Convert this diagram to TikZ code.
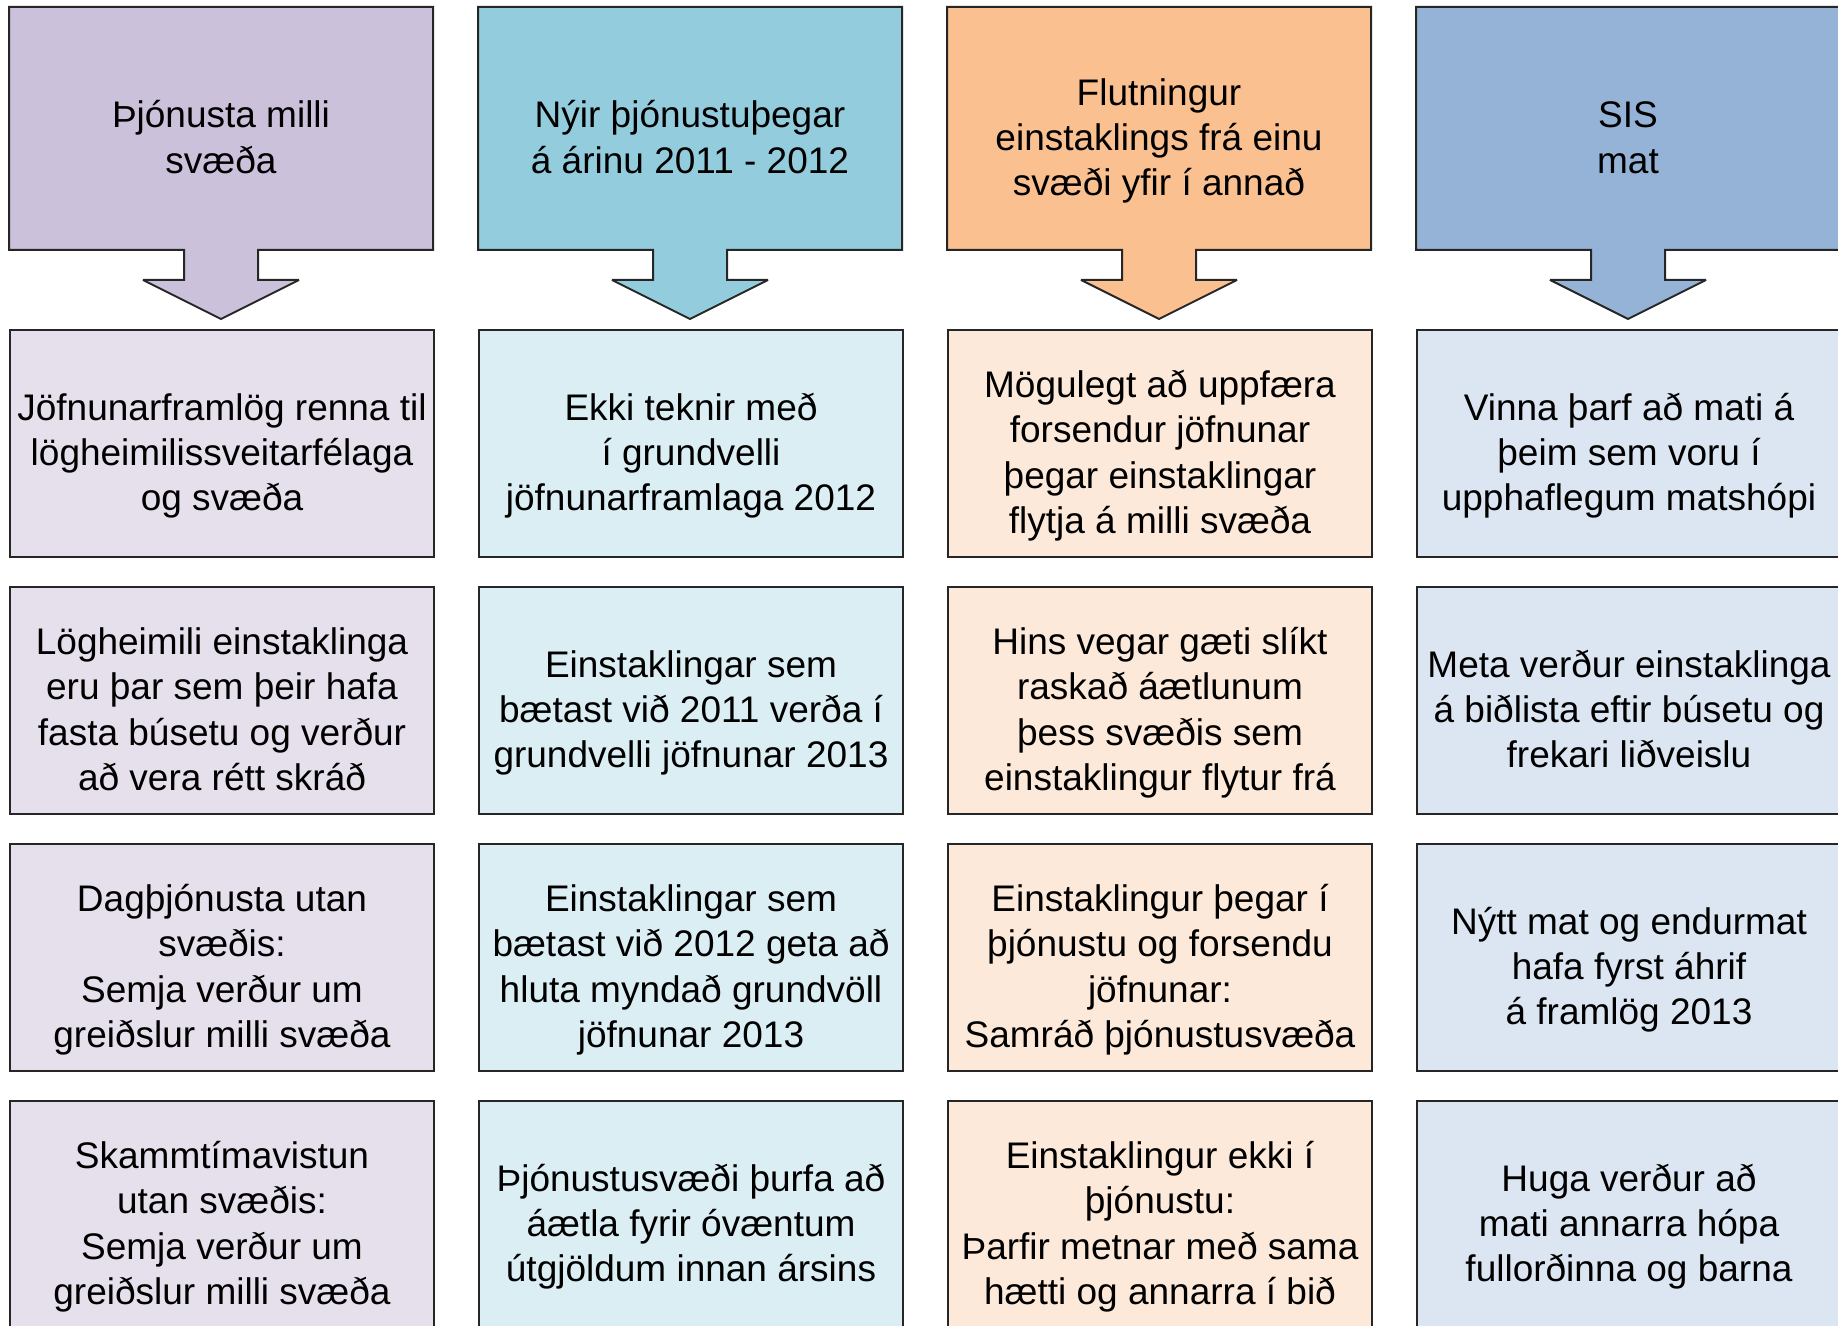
\documentclass[tikz,border=0pt]{standalone}
\usepackage{fontspec}
\setmainfont{Liberation Sans}
\definecolor{hdA}{HTML}{CCC1DA}
\definecolor{bxA}{HTML}{E5E0EC}
\definecolor{hdB}{HTML}{93CDDD}
\definecolor{bxB}{HTML}{DBEEF4}
\definecolor{hdC}{HTML}{FAC090}
\definecolor{bxC}{HTML}{FDE9D9}
\definecolor{hdD}{HTML}{95B3D7}
\definecolor{bxD}{HTML}{DCE6F2}
\definecolor{edge}{HTML}{262626}
\newcommand\mycell[5]{%
  \node[cellbox, fill=#4] (#1) at (#2,#3) {};
  \node[celltext] (#1t) at ([yshift=-6.5pt]#1.center) {\strut #5\strut};
}
\begin{document}
\begin{tikzpicture}[x=0.5pt,y=-0.5pt,
  hdrshape/.style={draw=edge, line width=1pt, line join=miter, miter limit=3},
  cellbox/.style={draw=edge, line width=1pt, rectangle, anchor=north west,
    minimum width=212pt, minimum height=113.5pt, inner sep=0pt},
  celltext/.style={align=center, inner sep=0pt,
    font=\fontsize{18.5}{22.6}\selectfont}]
\useasboundingbox (0,0) rectangle (1838,1326);
\clip (0,0) rectangle (1838,1326);

% header shapes with down arrows
\foreach \L/\col in {9/hdA,478/hdB,947/hdC,1416/hdD}{
  \draw[hdrshape, fill=\col] (\L,7) -- ({\L+424},7) -- ({\L+424},250)
    -- ({\L+249},250) -- ({\L+249},280) -- ({\L+290},280) -- ({\L+212},319)
    -- ({\L+134},280) -- ({\L+175},280) -- ({\L+175},250) -- (\L,250) -- cycle;
}

% header texts
\node[celltext] (h1) at (221,141.5) {\strut Þjónusta milli\\svæða\strut};
\node[celltext] (h2) at (690,141.5) {\strut Nýir þjónustuþegar\\á árinu 2011 - 2012\strut};
\node[celltext] (h3) at (1159,141.5) {\strut Flutningur\\einstaklings frá einu\\svæði yfir í annað\strut};
\node[celltext] (h4) at (1628,141.5) {\strut SIS\\mat\strut};

% column 1
\mycell{a1}{9}{329}{bxA}{Jöfnunarframlög renna til\\lögheimilissveitarfélaga\\og svæða}
\mycell{a2}{9}{586}{bxA}{Lögheimili einstaklinga\\eru þar sem þeir hafa\\fasta búsetu og verður\\að vera rétt skráð}
\mycell{a3}{9}{843}{bxA}{Dagþjónusta utan\\svæðis:\\Semja verður um\\greiðslur milli svæða}
\mycell{a4}{9}{1100}{bxA}{Skammtímavistun\\utan svæðis:\\Semja verður um\\greiðslur milli svæða}

% column 2
\mycell{b1}{478}{329}{bxB}{Ekki teknir með\\í grundvelli\\jöfnunarframlaga 2012}
\mycell{b2}{478}{586}{bxB}{Einstaklingar sem\\bætast við 2011 verða í\\grundvelli jöfnunar 2013}
\mycell{b3}{478}{843}{bxB}{Einstaklingar sem\\bætast við 2012 geta að\\hluta myndað grundvöll\\jöfnunar 2013}
\mycell{b4}{478}{1100}{bxB}{Þjónustusvæði þurfa að\\áætla fyrir óvæntum\\útgjöldum innan ársins}

% column 3
\mycell{c1}{947}{329}{bxC}{Mögulegt að uppfæra\\forsendur jöfnunar\\þegar einstaklingar\\flytja á milli svæða}
\mycell{c2}{947}{586}{bxC}{Hins vegar gæti slíkt\\raskað áætlunum\\þess svæðis sem\\einstaklingur flytur frá}
\mycell{c3}{947}{843}{bxC}{Einstaklingur þegar í\\þjónustu og forsendu\\jöfnunar:\\Samráð þjónustusvæða}
\mycell{c4}{947}{1100}{bxC}{Einstaklingur ekki í\\þjónustu:\\Þarfir metnar með sama\\hætti og annarra í bið}

% column 4
\mycell{d1}{1416}{329}{bxD}{Vinna þarf að mati á\\þeim sem voru í\\upphaflegum matshópi}
\mycell{d2}{1416}{586}{bxD}{Meta verður einstaklinga\\á biðlista eftir búsetu og\\frekari liðveislu}
\mycell{d3}{1416}{843}{bxD}{Nýtt mat og endurmat\\hafa fyrst áhrif\\á framlög 2013}
\mycell{d4}{1416}{1100}{bxD}{Huga verður að\\mati annarra hópa\\fullorðinna og barna}
\end{tikzpicture}
\end{document}
